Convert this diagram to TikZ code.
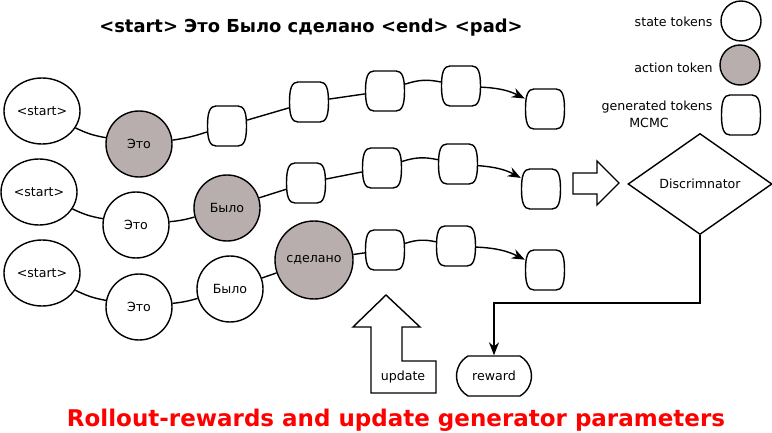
\documentclass[tikz,border=0pt]{standalone}
\usepackage{fontspec}
\setmainfont{DejaVu Sans}
\usetikzlibrary{shapes.geometric,shapes.misc,shapes.arrows,arrows.meta}
\definecolor{act}{RGB}{184,174,173}
\definecolor{redt}{RGB}{255,0,0}
\newcommand\genbox[2]{%
  \node[gbox] (#1) at (#2) {};
  \draw[lw,fill=white,shift={(#1.center)}] (-11,-20) -- (11,-20)
    .. controls (17,-20) and (19.5,-14) .. (19.5,0)
    .. controls (19.5,14) and (17,20) .. (11,20) -- (-11,20)
    .. controls (-17,20) and (-19.5,14) .. (-19.5,0)
    .. controls (-19.5,-14) and (-17,-20) .. (-11,-20) -- cycle;}
\begin{document}
\begin{tikzpicture}[x=1pt,y=-1pt,
  every node/.style={font=\fontsize{12.6}{15}\selectfont},
  lw/.style={line width=1.4pt},
  startn/.style={ellipse,draw,lw,fill=white,minimum width=76pt,minimum height=66pt,inner sep=0pt},
  statet/.style={circle,draw,lw,fill=white,minimum size=66pt,inner sep=0pt},
  actt/.style={circle,draw,lw,fill=act,minimum size=66pt,inner sep=0pt},
  gbox/.style={rectangle,draw=none,minimum width=40pt,minimum height=41pt,inner sep=0pt},
  conn/.style={lw},
  arr/.style={lw,-{Stealth[length=13pt,width=10pt]}}
]
\useasboundingbox (0,0) rectangle (772,433);
% title
\node[font=\fontsize{17.9}{20}\selectfont\bfseries] (title) at (311,28) {<start> Это Было сделано <end> <pad>};
% legend
\node[statet,minimum size=40pt] (lgs) at (741,21) {};
\node[actt,minimum size=40pt] (lga) at (740,65) {};
\genbox{lgg}{741,115}
\node[anchor=east] (lgst) at (716,22) {state tokens};
\node[anchor=east] (lgat) at (716,68) {action token};
\node[anchor=east] (lggt) at (716,107) {generated tokens};
\node (lggm) at (649,123) {MCMC};
% row 1
\node[startn] (s1) at (42,111) {<start>};
\node[actt] (a1) at (139,144) {Это};
\genbox{g11}{227,126}
\genbox{g12}{309,102}
\genbox{g13}{385,91}
\genbox{g14}{461,86}
\genbox{g15}{545,109}
% row 2
\node[startn] (s2) at (39,192) {<start>};
\node[statet] (b2) at (136,225) {Это};
\node[actt] (a2) at (227,208) {Было};
\genbox{g21}{306,183}
\genbox{g22}{382,168}
\genbox{g23}{458,164}
\genbox{g24}{541,189}
% row 3
\node[startn] (s3) at (42,273) {<start>};
\node[statet] (b31) at (139,307) {Это};
\node[statet] (b32) at (230,289) {Было};
\node[actt,minimum size=78pt] (a3) at (314,260) {сделано};
\genbox{g31}{385,250}
\genbox{g32}{456,246}
\genbox{g33}{545,270}
% connectors row 1
\draw[conn] (s1) to[bend right=8] (a1);
\draw[conn] (a1) to[bend right=5] (g11);
\draw[conn] (g11) -- (g12);
\draw[conn] (g12) -- (g13);
\draw[conn] (g13) to[bend left=15] (g14);
\draw[arr] (g14) to[bend left=12] (g15);
% row 2
\draw[conn] (s2) to[bend right=8] (b2);
\draw[conn] (b2) to[bend right=5] (a2);
\draw[conn] (a2) -- (g21);
\draw[conn] (g21) -- (g22);
\draw[conn] (g22) to[bend left=15] (g23);
\draw[arr] (g23) to[bend left=12] (g24);
% row 3
\draw[conn] (s3) to[bend right=8] (b31);
\draw[conn] (b31) to[bend right=5] (b32);
\draw[conn] (b32) -- (a3);
\draw[conn] (a3) -- (g31);
\draw[conn] (g31) to[bend left=15] (g32);
\draw[arr] (g32) to[bend left=12] (g33);
% block arrow to discriminator
\draw[lw,fill=white] (573,173) -- (597,173) -- (597,161) -- (619,183) -- (597,205) -- (597,194) -- (573,194) -- cycle;
% discriminator
\node[diamond,draw,lw,fill=white,minimum width=144pt,minimum height=101pt,inner sep=0pt,aspect=1.44] (disc) at (700,184) {Discrimnator};
% reward
\node[rounded rectangle,rounded rectangle arc length=120,draw,lw,fill=white,minimum width=75pt,minimum height=40pt,inner sep=0pt,text width=50pt,align=center] (rew) at (494,376) {reward};
\coordinate (corner) at (700,303);
\draw[arr] (disc.south) -- (corner) -| (rew.north);
% update arrow
\draw[lw,fill=white] (386,295) -- (420,327) -- (402,327) -- (402,361) -- (436,361) -- (436,393) -- (371,393) -- (371,327) -- (353,327) -- cycle;
\node (upd) at (403,377) {update};
% bottom title
\node[font=\fontsize{23}{26}\selectfont\bfseries,text=redt] (caption) at (396,420) {Rollout-rewards and update generator parameters};
\end{tikzpicture}
\end{document}
